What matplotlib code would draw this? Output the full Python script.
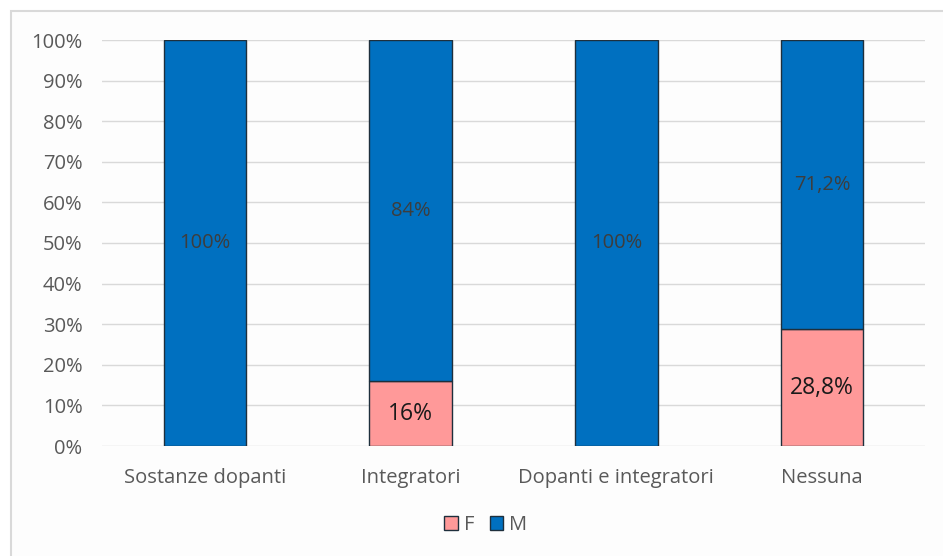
import matplotlib.pyplot as plt
import numpy as np
from matplotlib.patches import Rectangle
from matplotlib.ticker import FuncFormatter

categories = ["Sostanze dopanti", "Integratori", "Dopanti e integratori", "Nessuna"]
f_values = [0, 16, 0, 28.8]
m_values = [100, 84, 100, 71.2]
f_labels = ["", "16%", "", "28,8%"]
m_labels = ["100%", "84%", "100%", "71,2%"]

F_COLOR = "#FF9999"
M_COLOR = "#0070C0"
EDGE = "#1e2f3c"

plt.rcParams["font.family"] = ["Open Sans", "DejaVu Sans"]

fig = plt.figure(figsize=(9.43, 5.56), dpi=100)
fig.patch.set_facecolor("white")
# light chart frame (top and left edges visible)
fig.patches.append(Rectangle((11 / 943, -0.05), 1.2, 1 - 11 / 556 + 0.05,
                             transform=fig.transFigure, facecolor="#fdfdfd",
                             edgecolor="#d9d9d9", linewidth=1.5, zorder=-10))

ax = fig.add_axes([102 / 943, 1 - 446 / 556, (925 - 102) / 943, (446 - 40) / 556])
ax.set_facecolor("none")
ax.set_zorder(5)

x = np.arange(len(categories))
width = 0.4
bf = ax.bar(x, f_values, width, color=F_COLOR, edgecolor=EDGE, linewidth=1, label="F", zorder=3)
bm = ax.bar(x, m_values, width, bottom=f_values, color=M_COLOR, edgecolor=EDGE, linewidth=1, label="M", zorder=3)

for i in range(len(categories)):
    if f_labels[i]:
        ax.text(x[i], f_values[i] / 2, f_labels[i], ha="center", va="center",
                fontsize=16.5, color="#1a1a1a", zorder=4)
    ax.text(x[i], f_values[i] + m_values[i] / 2, m_labels[i], ha="center", va="center",
            fontsize=14.5, color="#3d3d3d", zorder=4)

ax.set_xlim(-0.5, len(categories) - 0.5)
ax.set_ylim(0, 100)
ax.set_yticks(np.arange(0, 101, 10))
ax.yaxis.set_major_formatter(FuncFormatter(lambda v, p: f"{int(v)}%"))
ax.grid(axis="y", color="#d9d9d9", linewidth=1, zorder=0)
ax.set_axisbelow(True)
for s in ax.spines.values():
    s.set_visible(False)
ax.tick_params(axis="both", length=0, labelsize=14.5, colors="#595959")
ax.tick_params(axis="y", pad=14)
ax.tick_params(axis="x", pad=16)
ax.set_xticks(x)
ax.set_xticklabels(categories)

leg = fig.legend(handles=[bf, bm], labels=["F", "M"], loc="center", bbox_to_anchor=(486 / 943, 1 - 525 / 556),
                 ncol=2, frameon=False, fontsize=14.5, handlelength=0.65, handleheight=0.65,
                 handletextpad=0.3, columnspacing=0.8, labelcolor="#595959")
leg.set_zorder(6)

fig.savefig("out.png", dpi=100)
